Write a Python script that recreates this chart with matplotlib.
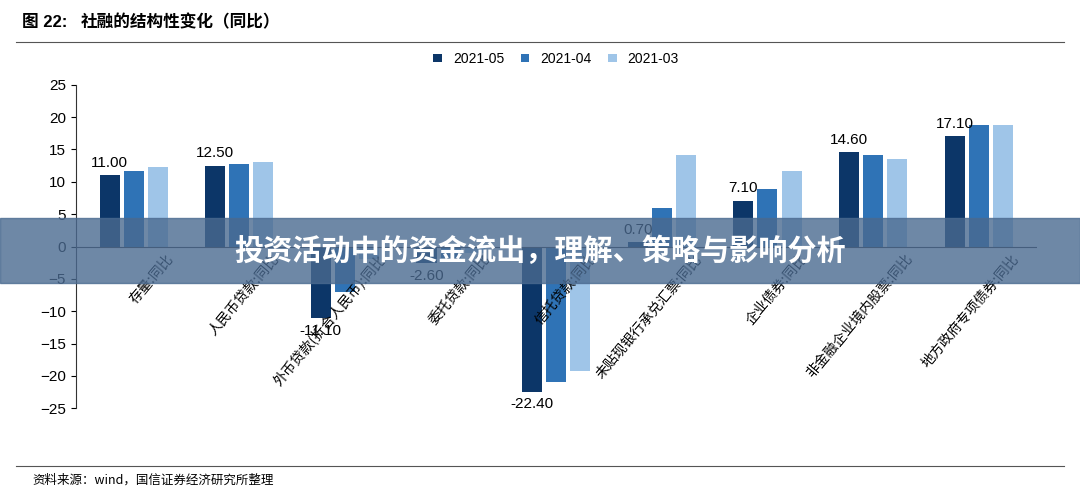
import matplotlib
matplotlib.use("Agg")
import matplotlib.pyplot as plt
import numpy as np
from matplotlib.patches import Rectangle

plt.rcParams["font.family"] = ["Liberation Sans", "Noto Sans CJK SC"]

categories = ["存量:同比", "人民币贷款:同比", "外币贷款(折合人民币):同比", "委托贷款:同比",
              "信托贷款:同比", "未贴现银行承兑汇票:同比", "企业债券:同比",
              "非金融企业境内股票:同比", "地方政府专项债券:同比"]
s_2105 = [11.0, 12.5, -11.1, -2.6, -22.4, 0.7, 7.1, 14.6, 17.1]
s_2104 = [11.7, 12.7, -7.0, -1.8, -21.0, 6.0, 8.9, 14.2, 18.8]
s_2103 = [12.3, 13.0, -2.0, -1.0, -19.2, 14.2, 11.7, 13.5, 18.8]
series_names = ["2021-05", "2021-04", "2021-03"]
colors = ["#0c3668", "#2f73b6", "#9fc5e8"]

fig = plt.figure(figsize=(10.8, 4.98), dpi=100)
ax = fig.add_axes([0.07, 0.18, 0.89, 0.65])
x = np.arange(len(categories))
w = 0.19
for i, (vals, name) in enumerate(zip([s_2105, s_2104, s_2103], series_names)):
    ax.bar(x + (i - 1) * w * 1.2, vals, w, color=colors[i], label=name)
    if i == 0:
        for xi, v in zip(x, vals):
            off = 0.8 if v >= 0 else -0.8
            ax.text(xi - w * 1.2, v + off, f"{v:.2f}", ha="center",
                    va="bottom" if v >= 0 else "top", fontsize=11)
ax.set_ylim(-25, 25)
ax.set_yticks(range(-25, 26, 5))
ax.set_xlim(-0.55, len(categories) - 0.45)
ax.set_xticks([])
ax.axhline(0, color="#333333", lw=0.8)
for s in ["top", "right", "bottom"]:
    ax.spines[s].set_visible(False)
ax.spines["left"].set_color("#333333")
ax.tick_params(axis="y", labelsize=11)
for xi, c in zip(x, categories):
    ax.text(xi + 0.3, -0.8, c, rotation=50, ha="right", va="top", fontsize=10,
            family="Noto Sans CJK SC", rotation_mode="anchor")
ax.legend(loc="upper center", bbox_to_anchor=(0.5, 1.14), ncol=3, frameon=False,
          fontsize=10, handlelength=0.6, handleheight=0.6, columnspacing=1.2)

fig.text(0.02, 0.955, "图 22:", fontsize=12, fontweight="bold", va="center")
fig.text(0.075, 0.955, "社融的结构性变化（同比）", fontsize=12, fontweight="bold",
         va="center", family="Noto Sans CJK SC")
fig.add_artist(plt.Line2D([0.015, 0.985], [0.915, 0.915], color="#555555", lw=0.8))
fig.add_artist(plt.Line2D([0.015, 0.985], [0.065, 0.065], color="#555555", lw=0.8))
fig.text(0.03, 0.035, "资料来源：wind，国信证券经济研究所整理", fontsize=9, va="center",
         family="Noto Sans CJK SC")

fig.add_artist(Rectangle((0, 0.432), 1, 0.13, transform=fig.transFigure,
                         color="#4a6a90", alpha=0.8, zorder=10))
fig.text(0.5, 0.497, "投资活动中的资金流出，理解、策略与影响分析", ha="center", va="center",
         fontsize=21, fontweight="bold", color="white", family="Noto Sans CJK SC", zorder=11)
fig.savefig("out.png", dpi=100)
